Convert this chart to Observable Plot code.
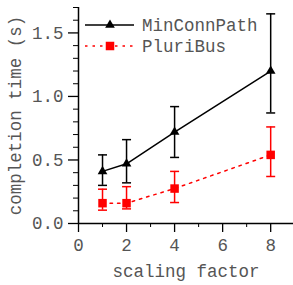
<!DOCTYPE html>
<html>
<head>
<meta charset="utf-8">
<script src="https://cdn.jsdelivr.net/npm/d3@7"></script>
<script src="https://cdn.jsdelivr.net/npm/@observablehq/plot@0.6"></script>
<style>
  html, body { margin: 0; padding: 0; background: #fff; }
</style>
</head>
<body>
<div id="chart"></div>
<script>
// ---- data ----
const scalingFactors = [1, 2, 4, 8];
const minConnMean = [0.41, 0.47, 0.72, 1.20];
const minConnLow  = [0.30, 0.32, 0.52, 0.87];
const minConnHigh = [0.54, 0.66, 0.92, 1.65];
const pluriMean = [0.16, 0.16, 0.275, 0.54];
const pluriLow  = [0.105, 0.115, 0.165, 0.37];
const pluriHigh = [0.27, 0.29, 0.41, 0.76];
const seriesNames = ["MinConnPath", "PluriBus"];
const yMajorTicks = [0, 0.5, 1.0, 1.5];
const yMinorTicks = [0.1, 0.2, 0.3, 0.4, 0.6, 0.7, 0.8, 0.9, 1.1, 1.2, 1.3, 1.4, 1.6, 1.7];
const xMajorTicks = [0, 2, 4, 6, 8];
const xMinorTicks = [1, 3, 5, 7];
const xLabel = "scaling factor";
const yLabel = "completion time (s)";

const minConn = scalingFactors.map((x, i) => ({x, y: minConnMean[i], lo: minConnLow[i], hi: minConnHigh[i]}));
const pluri = scalingFactors.map((x, i) => ({x, y: pluriMean[i], lo: pluriLow[i], hi: pluriHigh[i]}));

const FONT = "'Liberation Mono', 'DejaVu Sans Mono', monospace";
const TXT = "#555";
const RED = "#ff0000";

const capSymbol = {
  draw(context, size) {
    const w = 4.5;
    context.moveTo(-w, 0);
    context.lineTo(w, 0);
  }
};

const plot = Plot.plot({
  width: 293,
  height: 285,
  marginLeft: 78,
  marginRight: 0,
  marginTop: 7,
  marginBottom: 62,
  style: {fontFamily: FONT, fontSize: "17.5px", background: "#fff", color: "#000"},
  x: {domain: [0, 8.95]},
  y: {domain: [0, 1.7]},
  marks: [
    // axes
    Plot.axisY(yMinorTicks, {tickSize: 5, tickFormat: () => "", label: null}),
    Plot.axisY(yMajorTicks, {tickSize: 10, tickPadding: 5, tickFormat: d3.format(".1f"), label: null, fill: TXT, strokeWidth: 1.3}),
    Plot.axisX(xMinorTicks, {tickSize: 4, tickFormat: () => "", label: null}),
    Plot.axisX(xMajorTicks, {tickSize: 9, tickPadding: 6, tickFormat: d3.format("d"), label: null, fill: TXT, strokeWidth: 1.3}),
    Plot.ruleX([0], {strokeWidth: 1.5}),
    Plot.ruleY([0], {strokeWidth: 1.5}),
    Plot.text([yLabel], {frameAnchor: "left", dx: -63, rotate: -90, fill: TXT, textAnchor: "middle"}),
    Plot.text([xLabel], {frameAnchor: "bottom", dy: 48, fill: TXT, lineAnchor: "middle"}),
    // PluriBus
    Plot.line(pluri, {x: "x", y: "y", stroke: RED, strokeWidth: 1.5, strokeDasharray: "2.5,5"}),
    Plot.ruleX(pluri, {x: "x", y1: "lo", y2: "hi", stroke: RED, strokeWidth: 1.5}),
    Plot.dot(pluri, {x: "x", y: "lo", symbol: capSymbol, fill: "none", stroke: RED, strokeWidth: 1.5}),
    Plot.dot(pluri, {x: "x", y: "hi", symbol: capSymbol, fill: "none", stroke: RED, strokeWidth: 1.5}),
    Plot.dot(pluri, {x: "x", y: "y", symbol: "square", r: 4.8, fill: RED, stroke: "none"}),
    // MinConnPath
    Plot.line(minConn, {x: "x", y: "y", stroke: "#000", strokeWidth: 1.5}),
    Plot.ruleX(minConn, {x: "x", y1: "lo", y2: "hi", stroke: "#000", strokeWidth: 1.5}),
    Plot.dot(minConn, {x: "x", y: "lo", symbol: capSymbol, fill: "none", stroke: "#000", strokeWidth: 1.5}),
    Plot.dot(minConn, {x: "x", y: "hi", symbol: capSymbol, fill: "none", stroke: "#000", strokeWidth: 1.5}),
    Plot.dot(minConn, {x: "x", y: "y", symbol: "triangle", r: 3.6, fill: "#000", stroke: "none"})
  ]
});

// legend (layout only)
const svg = d3.select(plot);
const leg = svg.append("g").attr("font-family", FONT).attr("font-size", "17.5px").attr("text-anchor", "start");
const rows = [
  {name: seriesNames[0], y: 25, color: "#000", dash: null, sym: d3.symbolTriangle, size: Math.PI * 3.6 * 3.6},
  {name: seriesNames[1], y: 46, color: RED, dash: "2.5,5", sym: d3.symbolSquare, size: Math.PI * 4.8 * 4.8}
];
rows.forEach(r => {
  leg.append("line").attr("x1", 85).attr("x2", 134).attr("y1", r.y).attr("y2", r.y)
    .attr("stroke", r.color).attr("stroke-width", 1.5).attr("stroke-dasharray", r.dash);
  leg.append("path").attr("d", d3.symbol(r.sym, r.size)()).attr("transform", `translate(110,${r.y})`).attr("fill", r.color);
  leg.append("text").attr("x", 142).attr("y", r.y).attr("dy", "0.35em").attr("text-anchor", "start").attr("fill", TXT).text(r.name);
});

document.getElementById("chart").appendChild(plot);
</script>
</body>
</html>
